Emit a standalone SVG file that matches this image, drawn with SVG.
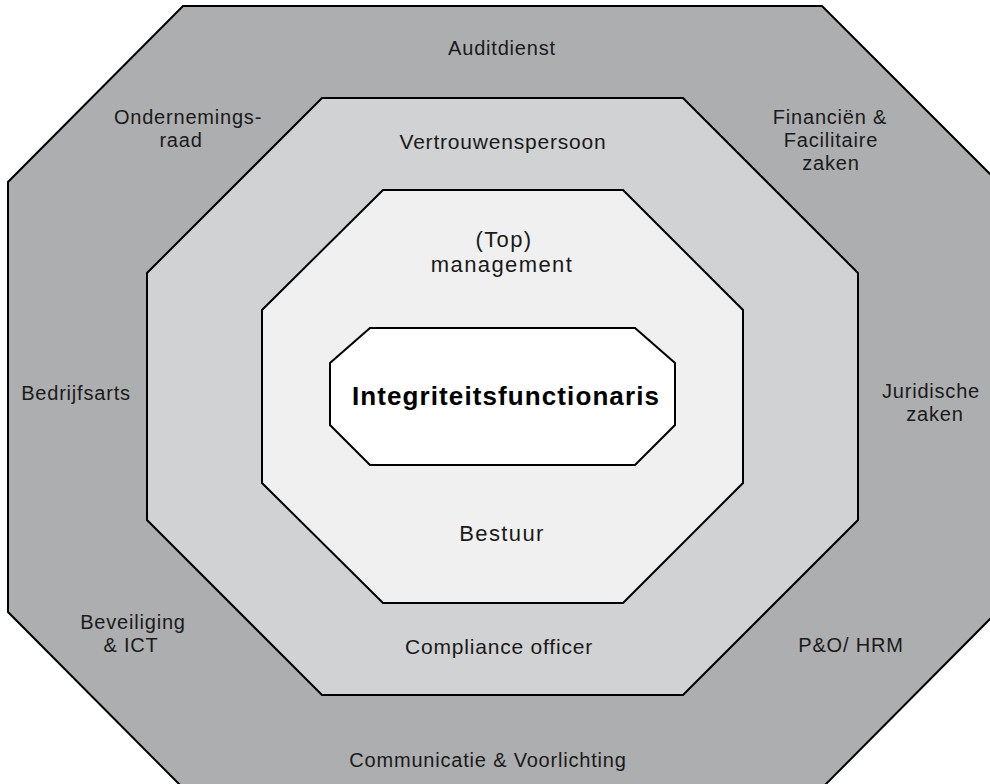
<svg xmlns="http://www.w3.org/2000/svg" width="990" height="784" viewBox="0 0 990 784">
<style>
.ring{stroke:#000;stroke-width:2;stroke-linejoin:miter}
.r1{fill:#adaeb0}
.r2{fill:#d1d2d4}
.r3{fill:#f0f0f0}
.r4{fill:#ffffff}
text{font-family:"Liberation Sans",Arial,sans-serif;fill:#1a1a1a;text-anchor:middle}
.t1{font-size:20px;letter-spacing:0.8px}
.t2{font-size:21px;letter-spacing:0.8px}
.t3{font-size:22px;letter-spacing:1.4px}
.t4{font-size:26px;font-weight:bold;letter-spacing:1.1px;fill:#000}
</style>
<rect width="990" height="784" fill="#ffffff"/>
<g id="outer-ring">
<polygon class="ring r1" points="183,6 822,6 997,181 997,612 822,788 183,788 8,612 8,182"/>
<text class="t1" x="502" y="55">Auditdienst</text>
<text class="t1" x="188" y="124">Ondernemings-</text>
<text class="t1" x="181" y="147">raad</text>
<text class="t1" x="830" y="124">Financiën &amp;</text>
<text class="t1" x="831" y="147">Facilitaire</text>
<text class="t1" x="831" y="170">zaken</text>
<text class="t1" x="76" y="400">Bedrijfsarts</text>
<text class="t1" x="931" y="398">Juridische</text>
<text class="t1" x="935" y="421">zaken</text>
<text class="t1" x="133" y="629">Beveiliging</text>
<text class="t1" x="131" y="652">&amp; ICT</text>
<text class="t1" x="851" y="652">P&amp;O/ HRM</text>
<text class="t1" x="488" y="767">Communicatie &amp; Voorlichting</text>
</g>
<g id="second-ring">
<polygon class="ring r2" points="322,98 683,98 858,273 858,520 683,695 322,695 147,520 147,273"/>
<text class="t2" x="503" y="149">Vertrouwenspersoon</text>
<text class="t2" x="499" y="654">Compliance officer</text>
</g>
<g id="third-ring">
<polygon class="ring r3" points="383,190 623,190 743,310 743,483 623,603 383,603 262,483 262,310"/>
<text class="t3" x="504" y="247">(Top)</text>
<text class="t3" x="502" y="272">management</text>
<text class="t3" x="502" y="541">Bestuur</text>
</g>
<g id="center">
<polygon class="ring r4" points="370,328 635,328 675,363 675,425 635,465 370,465 330,425 330,363"/>
<text class="t4" x="506" y="405">Integriteitsfunctionaris</text>
</g>
<g id="connectors"/>
</svg>
